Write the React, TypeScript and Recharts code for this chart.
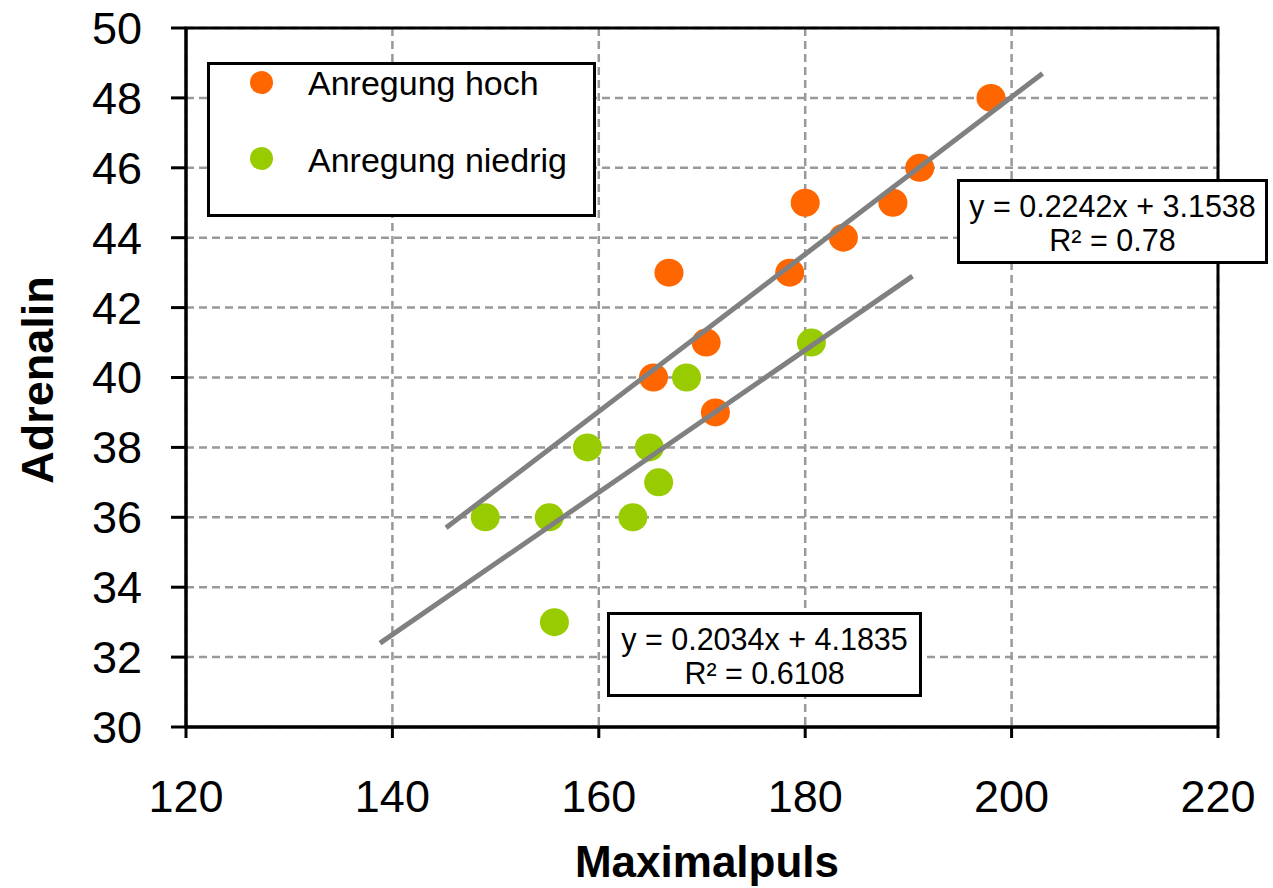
import React from 'react';
import {
  ScatterChart,
  Scatter,
  XAxis,
  YAxis,
  CartesianGrid,
  Legend,
  ReferenceArea,
} from 'recharts';

// Series: Anregung hoch
const hochPuls = [198, 191.1, 188.5, 180, 183.7, 178.5, 166.8, 170.4, 165.3, 171.3];
const hochAdrenalin = [48, 46, 45, 45, 44, 43, 43, 41, 40, 39];
// Series: Anregung niedrig
const niedrigPuls = [180.6, 168.5, 158.9, 164.9, 165.8, 149.0, 155.2, 163.3, 155.7];
const niedrigAdrenalin = [41, 40, 38, 38, 37, 36, 36, 36, 33];

// Linear trend lines (end points as drawn)
const trendHochPuls = [145.2, 203.0];
const trendHochAdrenalin = [35.7, 48.7];
const trendNiedrigPuls = [138.8, 190.4];
const trendNiedrigAdrenalin = [32.4, 42.9];

const xTicks = [120, 140, 160, 180, 200, 220];
const yTicks = [30, 32, 34, 36, 38, 40, 42, 44, 46, 48, 50];

const seriesNames = ['Anregung hoch', 'Anregung niedrig'];
const seriesColors = ['#FF6600', '#99CC00'];
const equationHoch = ['y = 0.2242x + 3.1538', 'R² = 0.78'];
const equationNiedrig = ['y = 0.2034x + 4.1835', 'R² = 0.6108'];

const zip = (xs: number[], ys: number[]) => xs.map((x, i) => ({ x, y: ys[i] }));

const hochData = zip(hochPuls, hochAdrenalin);
const niedrigData = zip(niedrigPuls, niedrigAdrenalin);
const trendHoch = zip(trendHochPuls, trendHochAdrenalin);
const trendNiedrig = zip(trendNiedrigPuls, trendNiedrigAdrenalin);

const FONT = '"Liberation Sans", Arial, Helvetica, sans-serif';

const makeDot = (color: string) => (props: any) => (
  <ellipse cx={props.cx} cy={props.cy} rx={14.5} ry={14} fill={color} />
);

const noDot = () => <g />;

const LegendBox = () => (
  <div
    style={{
      position: 'relative',
      width: 389,
      height: 155,
      border: '3px solid #000',
      boxSizing: 'border-box',
      background: '#fff',
      fontFamily: FONT,
      fontSize: 34,
      color: '#000',
    }}
  >
    {seriesNames.map((name, i) => (
      <div key={name}>
        <div
          style={{
            position: 'absolute',
            left: 54 - 11.5 - 3,
            top: 20 + i * 76 - 11.5 - 3,
            width: 23,
            height: 23,
            borderRadius: '50%',
            background: seriesColors[i],
          }}
        />
        <div
          style={{
            position: 'absolute',
            left: 101 - 3,
            top: 1 + i * 77 - 3,
            lineHeight: '40px',
            whiteSpace: 'nowrap',
          }}
        >
          {name}
        </div>
      </div>
    ))}
  </div>
);

const EqBox = ({ lines, left, top, width, height }: any) => (
  <div
    style={{
      position: 'absolute',
      left,
      top,
      width,
      height,
      border: '3px solid #000',
      boxSizing: 'border-box',
      background: '#fff',
      fontFamily: FONT,
      fontSize: 30.5,
      color: '#000',
      textAlign: 'center',
      lineHeight: '34px',
      paddingTop: 7,
      whiteSpace: 'nowrap',
    }}
  >
    {lines.map((l: string) => (
      <div key={l}>{l}</div>
    ))}
  </div>
);

export default function App() {
  return (
    <div style={{ position: 'absolute', left: 0, top: 0, width: 1273, height: 888, background: '#fff' }}>
      <ScatterChart
        width={1273}
        height={888}
        margin={{ top: 28, right: 55, left: 0, bottom: 0 }}
        style={{ fontFamily: FONT }}
      >
        <CartesianGrid stroke="#999999" strokeWidth={2.5} strokeDasharray="8 5" />
        <XAxis
          type="number"
          dataKey="x"
          domain={[120, 220]}
          ticks={xTicks}
          interval={0}
          height={161}
          axisLine={{ stroke: '#000', strokeWidth: 3 }}
          tickLine={{ stroke: '#000', strokeWidth: 3 }}
          tickSize={11}
          tickMargin={42}
          tick={{ fontSize: 45, fill: '#000', fontFamily: FONT }}
          label={() => (
            <text
              x={707}
              y={877}
              textAnchor="middle"
              fontFamily={FONT}
              fontSize={44}
              fontWeight="bold"
              fill="#000"
            >
              Maximalpuls
            </text>
          )}
        />
        <YAxis
          type="number"
          dataKey="y"
          domain={[30, 50]}
          ticks={yTicks}
          interval={0}
          width={186}
          axisLine={{ stroke: '#000', strokeWidth: 3 }}
          tickLine={{ stroke: '#000', strokeWidth: 3 }}
          tickSize={15}
          tickMargin={29}
          tick={{ fontSize: 45, fill: '#000', fontFamily: FONT }}
          label={() => (
            <text
              x={53}
              y={380}
              transform="rotate(-90, 53, 380)"
              textAnchor="middle"
              fontFamily={FONT}
              fontSize={45}
              fontWeight="bold"
              fill="#000"
            >
              Adrenalin
            </text>
          )}
        />
        <ReferenceArea
          x1={120}
          x2={220}
          y1={30}
          y2={50}
          fill="none"
          fillOpacity={0}
          stroke="#000"
          strokeWidth={3}
          ifOverflow="visible"
        />
        <Scatter
          name={seriesNames[0]}
          data={hochData}
          fill={seriesColors[0]}
          shape={makeDot(seriesColors[0])}
          isAnimationActive={false}
        />
        <Scatter
          name={seriesNames[1]}
          data={niedrigData}
          fill={seriesColors[1]}
          shape={makeDot(seriesColors[1])}
          isAnimationActive={false}
        />
        <Scatter
          name="trend hoch"
          data={trendHoch}
          line={{ stroke: '#808080', strokeWidth: 5 }}
          lineType="joint"
          shape={noDot}
          legendType="none"
          isAnimationActive={false}
        />
        <Scatter
          name="trend niedrig"
          data={trendNiedrig}
          line={{ stroke: '#808080', strokeWidth: 5 }}
          lineType="joint"
          shape={noDot}
          legendType="none"
          isAnimationActive={false}
        />
        <Legend
          layout="vertical"
          align="center"
          verticalAlign="middle"
          content={() => <LegendBox />}
          wrapperStyle={{ left: 207, top: 62, width: 389, height: 155 }}
        />
      </ScatterChart>
      <EqBox lines={equationHoch} left={957} top={179} width={311} height={85} />
      <EqBox lines={equationNiedrig} left={607} top={612} width={315} height={85} />
    </div>
  );
}
